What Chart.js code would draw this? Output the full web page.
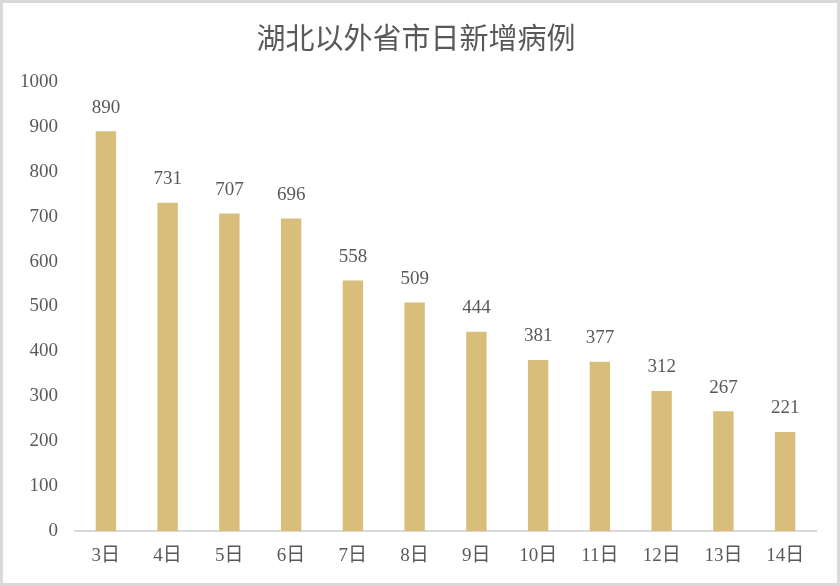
<!DOCTYPE html>
<html>
<head>
<meta charset="utf-8">
<script src="https://cdn.jsdelivr.net/npm/chart.js@4/dist/chart.umd.min.js"></script>
<style>
  html, body { margin: 0; padding: 0; background: #fff; }
  #wrap { width: 840px; height: 586px; position: relative; }
</style>
</head>
<body>
<div id="wrap"><canvas id="barChart" width="840" height="586"></canvas></div>
<script>
const days = ["3日", "4日", "5日", "6日", "7日", "8日", "9日", "10日", "11日", "12日", "13日", "14日"]
const newCases = [890, 731, 707, 696, 558, 509, 444, 381, 377, 312, 267, 221]
const chartTitle = "湖北以外省市日新增病例"

const textFont = "'Liberation Serif', 'Noto Sans CJK SC', serif"
const textColor = "#595959"

// white card with a light grey frame
const framePlugin = {
    id: 'frame',
    beforeDraw: (chart) => {
        const ctx = chart.ctx
        ctx.save()
        ctx.fillStyle = "#fff"
        ctx.fillRect(0, 0, chart.width, chart.height)
        ctx.strokeStyle = "#d9d9d9"
        ctx.lineWidth = 6
        ctx.strokeRect(0, 0, chart.width, chart.height)
        ctx.restore()
    }
}

// value on top of each bar
const valueLabels = {
    id: 'valueLabels',
    afterDatasetsDraw: (chart) => {
        const ctx = chart.ctx
        const meta = chart.getDatasetMeta(0)
        ctx.save()
        ctx.font = "19px " + textFont
        ctx.fillStyle = textColor
        ctx.textAlign = "center"
        ctx.textBaseline = "bottom"
        meta.data.forEach((bar, i) => {
            ctx.fillText(String(newCases[i]), bar.x, bar.y - 14)
        })
        ctx.restore()
    }
}

new Chart(document.getElementById("barChart").getContext("2d"), {
    type: 'bar',
    data: {
        labels: days,
        datasets: [{
            data: newCases,
            backgroundColor: "#d8be7a",
            barPercentage: 0.33,
            categoryPercentage: 1.0
        }]
    },
    options: {
        responsive: false,
        animation: false,
        layout: { padding: { left: 16, right: 24, top: 0, bottom: 14 } },
        plugins: {
            legend: { display: false },
            tooltip: { enabled: false },
            title: {
                display: true,
                text: chartTitle,
                color: textColor,
                font: { family: "'Noto Sans CJK SC', sans-serif", size: 29, weight: 'normal' },
                padding: { top: 21, bottom: 26 }
            }
        },
        scales: {
            x: {
                grid: { display: false },
                border: { color: "#d9d9d9", width: 2 },
                ticks: { color: textColor, font: { family: textFont, size: 19 }, padding: 5 }
            },
            y: {
                min: 0,
                max: 1000,
                afterFit: (scale) => { scale.width = 59 },
                grid: { display: false },
                border: { display: false },
                ticks: {
                    stepSize: 100,
                    color: textColor,
                    font: { family: textFont, size: 19 },
                    padding: 9,
                    callback: (value) => String(value)
                }
            }
        }
    },
    plugins: [framePlugin, valueLabels]
})
</script>
</body>
</html>
